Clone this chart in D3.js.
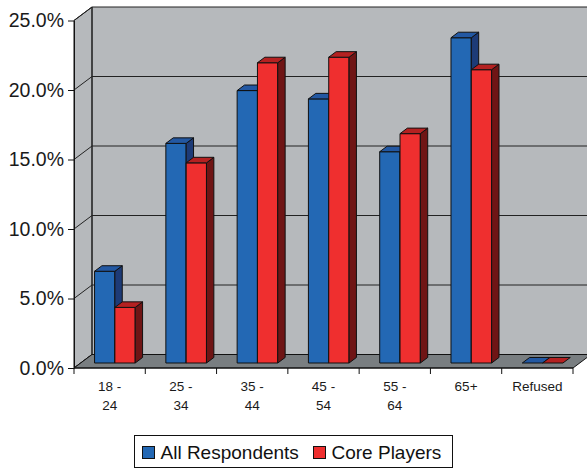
<!DOCTYPE html>
<html>
<head>
<meta charset="utf-8">
<script src="https://cdn.jsdelivr.net/npm/d3@7"></script>
<style>
  html, body { margin: 0; padding: 0; background: #ffffff; }
  svg { display: block; }
  svg text { font-family: "Liberation Sans", Arial, sans-serif; }
</style>
</head>
<body>
<svg id="chart" width="587" height="469"></svg>
<script>
// Age groups and the share of each group, in percent
const categories = ["18 - 24", "25 - 34", "35 - 44", "45 - 54", "55 - 64", "65+", "Refused"];
const allRespondents = [6.6, 15.8, 19.6, 19.0, 15.2, 23.4, 0];
const corePlayers = [4.0, 14.4, 21.6, 22.0, 16.5, 21.1, 0];
const seriesNames = ["All Respondents", "Core Players"];
const yTicks = [0, 5, 10, 15, 20, 25];

const svg = d3.select("#chart");

// front plane of the 3-D box and its depth offset
const plotLeft = 74, plotRight = 573, plotBottom = 368, plotTop = 20.5;
const DX = 18, DY = 13.5;

const x = d3.scaleBand().domain(categories).range([plotLeft, plotRight]);
const y = d3.scaleLinear().domain([0, 25]).range([plotBottom, plotTop]);

// project a point (front-plane x, value, depth 0..1) onto the screen
const proj = (px, v, z) => [px + z * DX, y(v) - z * DY];

const wallFill = "#b6b9bc", floorFill = "#797e81", edge = "#111";

// back wall
svg.append("polygon")
  .attr("points", [proj(plotLeft, 25, 1), proj(plotRight, 25, 1), proj(plotRight, 0, 1), proj(plotLeft, 0, 1)].join(" "))
  .attr("fill", wallFill);
// side wall
svg.append("polygon")
  .attr("points", [proj(plotLeft, 25, 0), proj(plotLeft, 25, 1), proj(plotLeft, 0, 1), proj(plotLeft, 0, 0)].join(" "))
  .attr("fill", wallFill).attr("stroke", edge).attr("stroke-width", 1);

// gridlines across the back wall and the side wall
const grid = svg.append("g").attr("stroke", "#222").attr("stroke-width", 1).attr("fill", "none");
yTicks.forEach(t => {
  grid.append("path").attr("d", d3.line()([proj(plotLeft, t, 0), proj(plotLeft, t, 1), proj(plotRight, t, 1)]));
});
grid.append("path").attr("d", d3.line()([proj(plotLeft, 0, 1), proj(plotLeft, 25, 1)]));

// floor
svg.append("polygon")
  .attr("points", [proj(plotLeft, 0, 0), proj(plotRight, 0, 0), proj(plotRight, 0, 1), proj(plotLeft, 0, 1)].join(" "))
  .attr("fill", floorFill).attr("stroke", edge).attr("stroke-width", 1);

// columns
const colors = [
  { front: "#2368b4", top: "#2358a2", side: "#1d3b77" },
  { front: "#ef2f2f", top: "#b42121", side: "#6f1515" }
];
const z0 = 0.37, z1 = 0.78;
const bw = x.bandwidth();
const barW = bw * 0.285, pairStart = bw * 0.195;

const bars = svg.append("g").attr("stroke", edge).attr("stroke-width", 1).attr("stroke-linejoin", "round");
categories.forEach((c, i) => {
  [allRespondents[i], corePlayers[i]].forEach((v, s) => {
    const x0 = x(c) + pairStart + s * barW, x1 = x0 + barW;
    const col = colors[s];
    const poly = (pts, fill) => bars.append("polygon").attr("points", pts.join(" ")).attr("fill", fill);
    if (v > 0) {
      poly([proj(x0, v, z0), proj(x1, v, z0), proj(x1, 0, z0), proj(x0, 0, z0)], col.front);
      poly([proj(x1, v, z0), proj(x1, v, z1), proj(x1, 0, z1), proj(x1, 0, z0)], col.side);
    }
    poly([proj(x0, v, z0), proj(x1, v, z0), proj(x1, v, z1), proj(x0, v, z1)], col.top);
  });
});

// value axis
const yAxis = svg.append("g")
  .attr("transform", `translate(${plotLeft},0)`)
  .call(d3.axisLeft(y).tickValues(yTicks).tickSize(6).tickSizeOuter(0).tickPadding(4)
    .tickFormat(d => d3.format(".1f")(d) + "%"));
yAxis.attr("font-family", null);
yAxis.selectAll("path, line").attr("stroke", edge);
yAxis.selectAll("text").attr("font-size", 19.5).attr("fill", "#1a1a1a");

// category axis: tick marks on band boundaries and two-line labels
const xAxis = svg.append("g");
xAxis.append("line").attr("x1", plotLeft).attr("x2", plotRight).attr("y1", plotBottom).attr("y2", plotBottom).attr("stroke", edge);
[...categories.map(c => x(c)), plotRight].forEach(px => {
  xAxis.append("line").attr("x1", px).attr("x2", px).attr("y1", plotBottom).attr("y2", plotBottom + 6).attr("stroke", edge);
});
categories.forEach(c => {
  const parts = c.split(" - ");
  const lines = parts.length > 1 ? [parts[0] + " -", parts[1]] : [c];
  const t = xAxis.append("text").attr("text-anchor", "middle").attr("font-size", 13.5).attr("fill", "#1a1a1a");
  lines.forEach((l, k) => {
    t.append("tspan").attr("x", x(c) + bw / 2).attr("y", 391 + k * 19).text(l);
  });
});

// legend
const legend = svg.append("g");
legend.append("rect").attr("x", 134.5).attr("y", 435.5).attr("width", 318).attr("height", 32)
  .attr("fill", "#fff").attr("stroke", edge).attr("stroke-width", 1);
const legendX = [142.5, 313.5];
seriesNames.forEach((name, s) => {
  legend.append("rect").attr("x", legendX[s]).attr("y", 446.5).attr("width", 12).attr("height", 12)
    .attr("fill", colors[s].front).attr("stroke", edge);
  legend.append("text").attr("x", legendX[s] + 18).attr("y", 459).attr("font-size", 19)
    .attr("fill", "#111").text(name);
});
</script>
</body>
</html>
